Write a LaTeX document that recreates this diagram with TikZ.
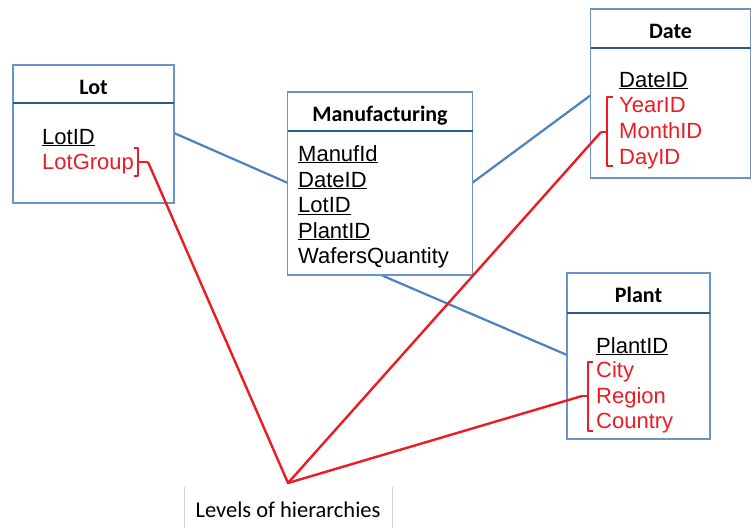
\documentclass[tikz,border=0pt]{standalone}
\usepackage{fontspec}
\setmainfont{Liberation Sans}
\newfontfamily\calfont{Carlito}
\definecolor{boxblue}{HTML}{6A93C8}
\definecolor{linkblue}{HTML}{4F81BD}
\definecolor{headblue}{HTML}{2C5A8F}
\definecolor{hred}{HTML}{EC1C24}
\begin{document}
\begin{tikzpicture}[x=1pt,y=-1pt,
  tbox/.style={draw=boxblue,line width=1.2pt,fill=white,inner sep=0pt},
  hline/.style={draw=headblue,line width=2.4pt},
  title/.style={font=\calfont\bfseries\fontsize{22}{25}\selectfont,anchor=base,inner sep=0pt},
  field/.style={font=\fontsize{22}{26}\selectfont,anchor=base west,inner sep=0pt},
  key/.style={field,text=black},
  hier/.style={field,text=hred},
  link/.style={draw=linkblue,line width=2.2pt},
  redline/.style={draw=hred,line width=2.4pt},
  brack/.style={draw=hred,line width=2.2pt,line join=round}]
\useasboundingbox (0,0) rectangle (751,528);
\fill[white] (0,0) rectangle (751,528);

% blue connectors (under boxes)
\coordinate (lotR) at (174,133);
\coordinate (manL) at (288,183);
\coordinate (manR) at (472,183);
\coordinate (dateL) at (591,95);
\coordinate (manB) at (381,275);
\coordinate (plantL) at (567,355);
\draw[link] (lotR) -- (manL);
\draw[link] (manR) -- (dateL);
\draw[link] (manB) -- (plantL);

% Lot
\node[tbox,minimum width=161pt,minimum height=138pt] (lot) at (93.5,134) {};
\draw[hline] (13,103) -- (174,103);
\node[title] (lotT) at (93.5,94) {Lot};
\node[key] (lotID) at (42,144) {\underline{LotID}};
\node[hier] (lotGroup) at (42,169) {LotGroup};

% Manufacturing
\node[tbox,minimum width=185pt,minimum height=183pt] (man) at (380,183.5) {};
\draw[hline] (287.5,131) -- (472.5,131);
\node[title] (manT) at (380,121) {Manufacturing};
\node[key] (m1) at (298,161) {\underline{ManufId}};
\node[key] (m2) at (298,187) {\underline{DateID}};
\node[key] (m3) at (298,212.5) {\underline{LotID}};
\node[key] (m4) at (298,238) {\underline{PlantID}};
\node[key] (m5) at (298,263.5) {WafersQuantity};

% Date
\node[tbox,minimum width=160pt,minimum height=169pt] (date) at (670.5,93.5) {};
\draw[hline] (590.5,48) -- (750.5,48);
\node[title] (dateT) at (670.5,38) {Date};
\node[key] (dID) at (619,87) {\underline{DateID}};
\node[hier] (dY) at (619,112) {YearID};
\node[hier] (dM) at (619,138) {MonthID};
\node[hier] (dD) at (619,164) {DayID};

% Plant
\node[tbox,minimum width=143pt,minimum height=166pt] (plant) at (638.5,356) {};
\draw[hline] (567,313) -- (710,313);
\node[title] (plantT) at (638.5,302) {Plant};
\node[key] (pID) at (596,353) {\underline{PlantID}};
\node[hier] (pC) at (596,377) {City};
\node[hier] (pR) at (596,403) {Region};
\node[hier] (pCo) at (596,428) {Country};

% brackets
\coordinate (lotTick) at (148,162);
\draw[brack] (134,148) -- (138,148) -- (138,176) -- (134,176);
\draw[brack] (138,162) -- (lotTick);
\coordinate (dateTick) at (601,132);
\draw[brack] (613,97) -- (607,97) -- (607,166) -- (613,166);
\draw[brack] (607,132) -- (dateTick);
\coordinate (plantTick) at (582,396);
\draw[brack] (593,362) -- (588,362) -- (588,431) -- (593,431);
\draw[brack] (588,396) -- (plantTick);

% label
\coordinate (apex) at (288,483);
\draw[black!18,line width=0.8pt] (184,528) -- (184,487) (392,487) -- (392,528);
\node[font=\calfont\fontsize{22.5}{26}\selectfont,anchor=base,inner sep=0pt] (levels) at (288,517) {Levels of hierarchies};

\draw[redline,line join=round] (lotTick) -- (apex) -- (dateTick);
\draw[redline] (apex) -- (plantTick);
\end{tikzpicture}
\end{document}
